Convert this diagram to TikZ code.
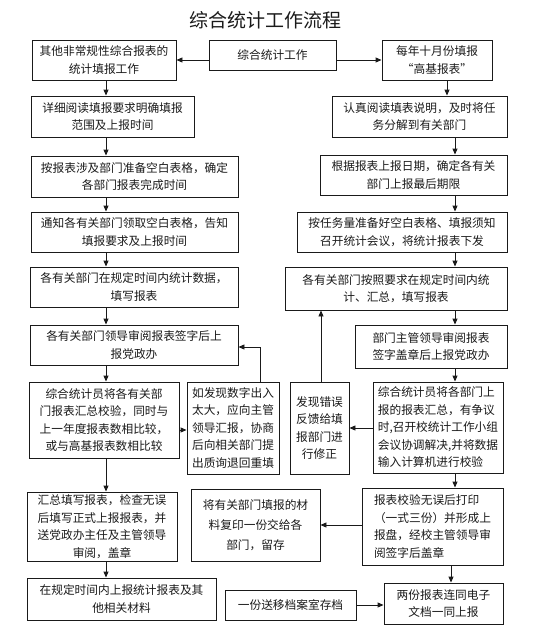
\documentclass[tikz,border=0pt]{standalone}
\usepackage{fontspec}
\setmainfont{Noto Sans CJK SC}
\usetikzlibrary{arrows.meta, positioning, calc}
\definecolor{inkblk}{HTML}{1A1A1A}

\begin{document}
\begin{tikzpicture}[
    x=1pt, y=-1pt,
    >={Triangle[length=6pt, width=5pt]},
    every node/.style={text=inkblk},
    box/.style={draw=inkblk, line width=0.9pt, inner sep=1pt, align=center,
      font=\fontsize{11.7}{17.5}\selectfont},
    boxl/.style={box, align=left},
    arr/.style={->, draw=inkblk, line width=0.9pt},
  ]

  % ===== Page frame =====
  \fill[white] (0,0) rectangle (535,634);
  \useasboundingbox (0,0) rectangle (535,634);

  % ===== Title =====
  \node[font=\fontsize{19}{22}\selectfont] (title) at (265,20) {综合统计工作流程};

  % ===== Top row =====
  \node[box, minimum width=127, minimum height=30] (C) at (272.5,55) {综合统计工作};
  \node[box, minimum width=144, minimum height=40] (L0) at (104,60)
    {其他非常规性综合报表的\\统计填报工作};
  \node[box, minimum width=110, minimum height=40] (R0) at (437,60)
    {每年十月份填报\\“高基报表”};

  % ===== Left column =====
  \node[box, minimum width=163, minimum height=41] (L1) at (112.5,116.5)
    {详细阅读填报要求明确填报\\范围及上报时间};
  \node[box, minimum width=207, minimum height=41] (L2) at (134.5,176.5)
    {按报表涉及部门准备空白表格，确定\\各部门报表完成时间};
  \node[box, minimum width=207, minimum height=40] (L3) at (134.5,232)
    {通知各有关部门领取空白表格，告知\\填报要求及上报时间};
  \node[box, minimum width=208, minimum height=40] (L4) at (134,287)
    {各有关部门在规定时间内统计数据，\\填写报表};
  \node[box, minimum width=208, minimum height=40] (L5) at (134,345)
    {各有关部门领导审阅报表签字后上\\报党政办};
  \node[box, minimum width=150, minimum height=76] (L6) at (104,420)
    {综合统计员将各有关部\\门报表汇总校验，同时与\\上一年度报表数相比较，\\或与高基报表数相比较};
  \node[boxl, minimum width=92, minimum height=92] (L7) at (233,428)
    {如发现数字出入\\太大，应向主管\\领导汇报，协商\\后向相关部门提\\出质询退回重填};
  \node[box, minimum width=150, minimum height=69] (L8) at (102,526.5)
    {汇总填写报表，检查无误\\后填写正式上报报表，并\\送党政办主任及主管领导\\审阅，盖章};
  \node[box, minimum width=189, minimum height=42] (L9) at (121.5,599)
    {在规定时间内上报统计报表及其\\他相关材料};

  % ===== Middle =====
  \node[box, minimum width=129, minimum height=72,
    font=\fontsize{11.7}{20}\selectfont] (M1) at (255.5,525)
    {将有关部门填报的材\\料复印一份交给各\\部门，留存};
  \node[box, minimum width=131, minimum height=30] (M2) at (290.5,605)
    {一份送移档案室存档};

  % ===== Right column =====
  \node[box, minimum width=175, minimum height=41] (R1) at (419.5,116.5)
    {认真阅读填表说明，及时将任\\务分解到有关部门};
  \node[box, minimum width=187, minimum height=40] (R2) at (413.5,175)
    {根据报表上报日期，确定各有关\\部门上报最后期限};
  \node[box, minimum width=210, minimum height=40] (R3) at (402,232)
    {按任务量准备好空白表格、填报须知\\召开统计会议，将统计报表下发};
  \node[box, minimum width=222, minimum height=43] (R4) at (396,288.5)
    {各有关部门按照要求在规定时间内统\\计、汇总，填写报表};
  \node[box, minimum width=152, minimum height=43] (R5) at (431,346.5)
    {部门主管领导审阅报表\\签字盖章后上报党政办};
  \node[box, minimum width=59, minimum height=92] (R6) at (319.5,428)
    {发现错误\\反馈给填\\报部门进\\行修正};
  \node[boxl, minimum width=130, minimum height=91] (R7) at (438,427.5)
    {综合统计员将各部门上\\报的报表汇总，有争议\\时,召开校统计工作小组\\会议协调解决,并将数据\\输入计算机进行校验};
  \node[boxl, minimum width=141, minimum height=77] (R8) at (432.5,526.5)
    {报表校验无误后打印\\（一式三份）并形成上\\报盘，经校主管领导审\\阅签字后盖章};
  \node[box, minimum width=119, minimum height=41] (R9) at (443.5,603.5)
    {两份报表连同电子\\文档一同上报};

  % ===== Connectors =====
  \coordinate (colL) at (106,0);
  \coordinate (colR) at (455,0);
  \coordinate (fbL) at (260,347);
  \coordinate (fbR) at (321,0);

  \draw[arr] (C.west |- L0.east) -- (L0.east);
  \draw[arr] (C.east |- R0.west) -- (R0.west);

  \foreach \a/\b in {L0/L1, L1/L2, L2/L3, L3/L4, L4/L5, L5/L6, L6/L8, L8/L9}
    \draw[arr] (\a.south -| colL) -- (\b.north -| colL);

  \draw[arr] (R0.south -| 447,0) -- (R1.north -| 447,0);
  \foreach \a/\b in {R1/R2, R2/R3, R3/R4, R4/R5, R5/R7, R7/R8}
    \draw[arr] (\a.south -| colR) -- (\b.north -| colR);
  \draw[arr] (R8.south -| 451,0) -- (R9.north -| 451,0);

  \draw[arr] (L6.east |- 0,430) -- (L7.west |- 0,430);
  \draw[arr] (R7.west |- 0,428) -- (R6.east |- 0,428);
  \draw[arr] (R8.west |- M1.east) -- (M1.east);
  \draw[arr] (M2.east) -- (R9.west |- M2.east);

  % feedback lines
  \draw[arr] (L7.north -| fbL) |- (L5.east |- fbL);
  \draw[arr] (R6.north -| fbR) -- (R4.south -| fbR);

\end{tikzpicture}
\end{document}
